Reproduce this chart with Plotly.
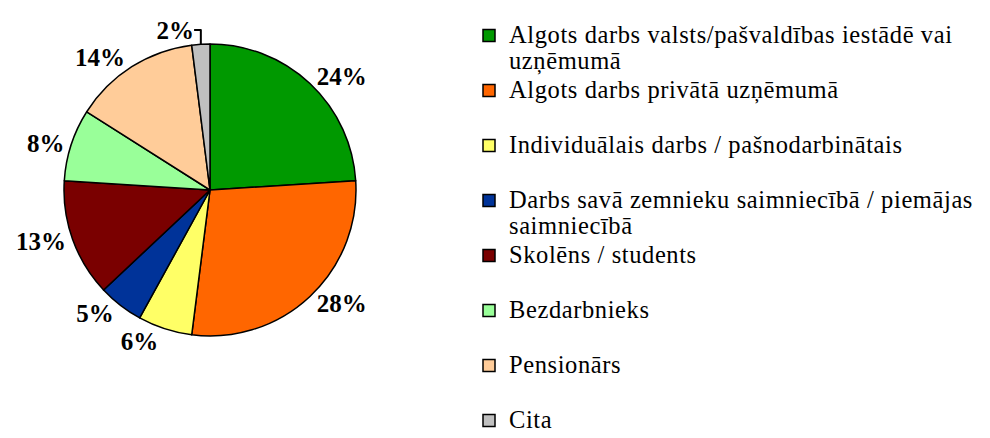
import plotly.graph_objects as go

categories = [
    ["Algots darbs valsts/pašvaldības iestādē vai", "uzņēmumā"],
    ["Algots darbs privātā uzņēmumā", " "],
    ["Individuālais darbs / pašnodarbinātais", " "],
    ["Darbs savā zemnieku saimniecībā / piemājas", "saimniecībā"],
    ["Skolēns / students", " "],
    ["Bezdarbnieks", " "],
    ["Pensionārs", " "],
    ["Cita"],
]
values = [24, 28, 6, 5, 13, 8, 14, 2]
colors = ["#009900", "#FF6600", "#FFFF66", "#003399", "#7A0000", "#99FF99", "#FFCC99", "#C0C0C0"]

SPAN = "<span style='font-size:24.5px;letter-spacing:0.6px'>{}</span>"
labels = ["<br>".join(SPAN.format(part) for part in c) for c in categories]

# page has an 8px body margin; figure sized so it fits the 990x438 window
W, H = 982, 430
cx, cy, r = 202, 182, 146
SERIF = "Liberation Serif, Times New Roman, serif"

fig = go.Figure(go.Pie(
    labels=labels,
    values=values,
    sort=False,
    direction="clockwise",
    rotation=0,
    marker=dict(colors=colors, line=dict(color="black", width=1.5)),
    textposition="outside",
    texttemplate="%{value}%",
    outsidetextfont=dict(family=SERIF, size=25, color="black", weight="bold"),
    domain=dict(x=[(cx - r) / W, (cx + r) / W], y=[(H - cy - r) / H, (H - cy + r) / H]),
    hoverinfo="percent",
))

fig.update_layout(
    width=W, height=H,
    margin=dict(l=0, r=0, t=0, b=0, autoexpand=False),
    paper_bgcolor="white",
    plot_bgcolor="white",
    font=dict(family=SERIF, color="black"),
    showlegend=True,
    legend=dict(
        x=461 / W, xanchor="left",
        y=1 - 8 / H, yanchor="top",
        font=dict(family=SERIF, size=20.0, color="black"),
        valign="top",
        bgcolor="rgba(0,0,0,0)",
        traceorder="normal",
    ),
)

fig.write_html("out.html")
